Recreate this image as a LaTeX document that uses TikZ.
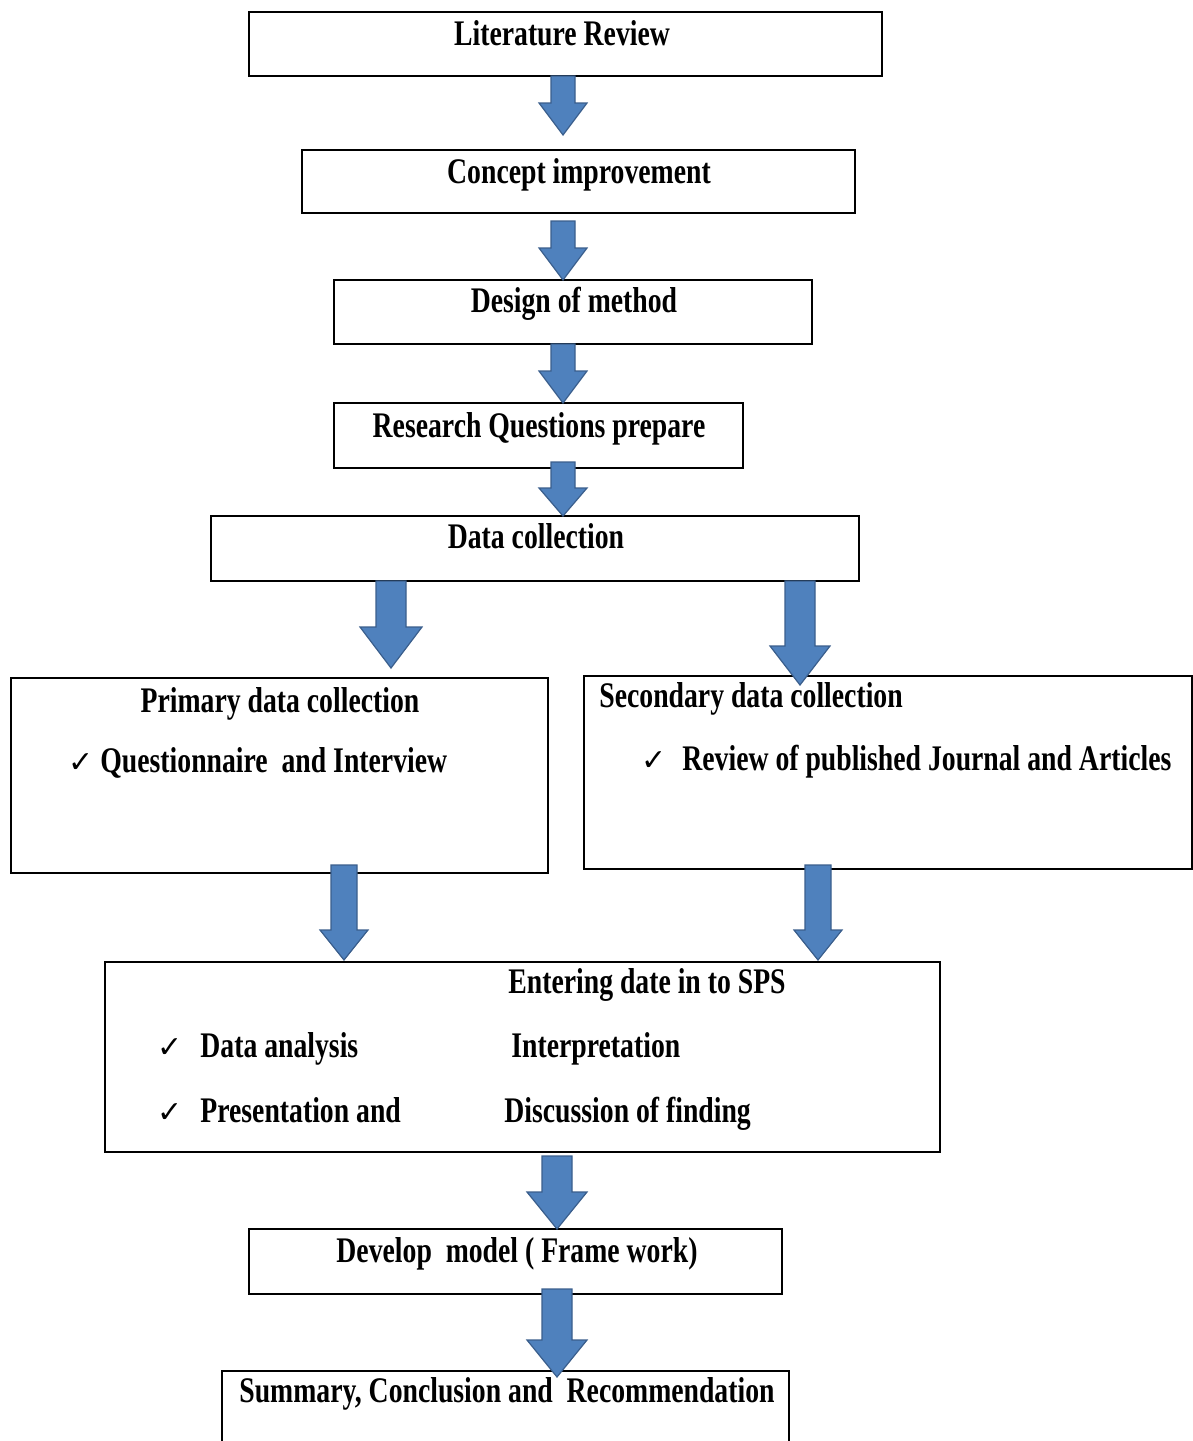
\documentclass[tikz,border=0pt]{standalone}
\usepackage{fontspec}
\setmainfont{Liberation Serif}[FakeStretch=0.77]
\newfontfamily\checkfont{DejaVu Sans}
\usetikzlibrary{calc,fit}
\definecolor{arrowblue}{RGB}{79,129,189}
\definecolor{arrowedge}{RGB}{58,94,140}
\tikzset{
  box/.style={draw, line width=1.2pt, inner sep=0pt, outer sep=0pt},
  txt/.style={anchor=base, inner sep=0pt, font=\bfseries\fontsize{18}{22}\selectfont},
  chk/.style={anchor=base west, inner sep=0pt, font=\checkfont\fontsize{15}{17}\selectfont},
  flowarrow/.style={fill=arrowblue, draw=arrowedge, line width=0.6pt, line join=miter}
}
\newcommand{\flowarrow}[5]{%
  \path[flowarrow] let \p1=(#1), \p2=(#2) in
    (\x2-#3,\y1) -- (\x2+#3,\y1) -- (\x2+#3,\y2+#5) -- (\x2+#4,\y2+#5)
    -- (\x2,\y2) -- (\x2-#4,\y2+#5) -- (\x2-#3,\y2+#5) -- cycle;}
\begin{document}
\begin{tikzpicture}[x=0.5pt,y=-0.5pt]
  \useasboundingbox (0,0) rectangle (1193,1441);
  \clip (0,0) rectangle (1193,1441);
  \node[box, fit={(249,12) (882,76)}] (lit) {};
  \node[box, fit={(302,150) (855,213)}] (concept) {};
  \node[box, fit={(334,280) (812,344)}] (design) {};
  \node[box, fit={(334,403) (743,468)}] (rq) {};
  \node[box, fit={(211,516) (859,581)}] (data) {};
  \node[box, fit={(11,678) (548,873)}] (primary) {};
  \node[box, fit={(584,676) (1192,869)}] (secondary) {};
  \node[box, fit={(105,962) (940,1152)}] (spss) {};
  \node[box, fit={(249,1229) (782,1294)}] (model) {};
  \node[box, fit={(222,1371) (789,1470)}] (summary) {};

  \node[txt] (litT) at (562,45) {Literature Review};
  \node[txt] (conceptT) at (579,183) {Concept improvement};
  \node[txt] (designT) at (574,312) {Design of method};
  \node[txt] (rqT) at (539,437) {Research Questions prepare};
  \node[txt] (dataT) at (536,548) {Data collection};
  \node[txt] (primaryT) at (280,712) {Primary data collection};
  \node[chk] (tick1) at (68,772) {✓};
  \node[txt, anchor=base west] (primaryB) at (100,772) {Questionnaire\ \ and Interview};
  \node[txt, anchor=base west] (secondaryT) at (599,707) {Secondary data collection};
  \node[chk] (tick2) at (641,770) {✓};
  \node[txt, anchor=base west] (secondaryB) at (682,770) {Review of published Journal and Articles};
  \node[txt, anchor=base west] (spssT) at (508,993) {Entering date in to SPS};
  \node[chk] (tick3) at (157,1057) {✓};
  \node[txt, anchor=base west] (analysis) at (200,1057) {Data analysis};
  \node[txt, anchor=base west] (interp) at (511,1057) {Interpretation};
  \node[chk] (tick4) at (157,1122) {✓};
  \node[txt, anchor=base west] (present) at (200,1122) {Presentation and};
  \node[txt, anchor=base west] (discuss) at (504,1122) {Discussion of finding};
  \node[txt] (modelT) at (517,1262) {Develop\ \ model ( Frame work)};
  \node[txt] (summaryT) at (507,1402) {Summary, Conclusion and\ \ Recommendation};

  \flowarrow{lit.south}{[xshift=-7.75pt,yshift=7.5pt]concept.north}{6pt}{12pt}{16pt}
  \flowarrow{[yshift=-4pt]concept.south}{[xshift=-5pt]design.north}{6pt}{12pt}{16pt}
  \flowarrow{design.south}{[xshift=12.25pt]rq.north}{6pt}{12pt}{16pt}
  \flowarrow{[yshift=3pt]rq.south}{[xshift=14pt]data.north}{6pt}{12pt}{14pt}
  \flowarrow{data.south}{[xshift=55.75pt,yshift=5pt]primary.north}{7.5pt}{15.5pt}{20.5pt}
  \flowarrow{data.south}{[xshift=-44pt,yshift=-4.5pt]secondary.north}{7.5pt}{15pt}{19.5pt}
  \flowarrow{[yshift=4pt]primary.south}{[xshift=-89.25pt,yshift=1pt]spss.north}{6.5pt}{12pt}{15pt}
  \flowarrow{[yshift=2pt]secondary.south}{[xshift=147.75pt,yshift=1pt]spss.north}{6.5pt}{12pt}{15pt}
  \flowarrow{[yshift=-2pt]spss.south}{[xshift=20.75pt]model.north}{7.5pt}{15pt}{18.5pt}
  \flowarrow{[yshift=2.5pt]model.south}{[xshift=25.75pt,yshift=-3pt]summary.north}{7.5pt}{15pt}{18.5pt}
\end{tikzpicture}
\end{document}
